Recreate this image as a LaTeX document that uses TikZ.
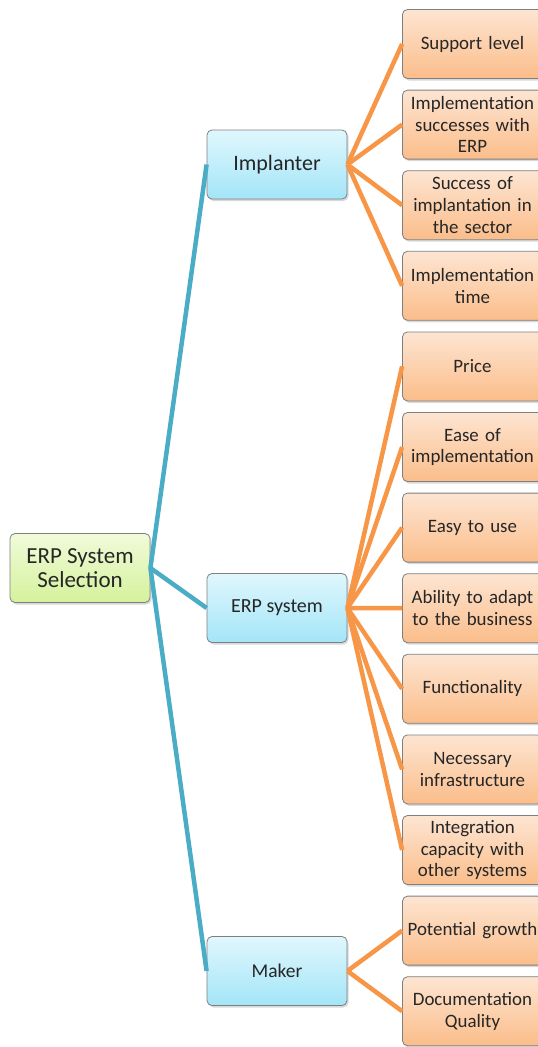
\documentclass[tikz,border=0pt]{standalone}
\usepackage{fontspec}
\setmainfont{Carlito}
\usetikzlibrary{positioning,shadows}
\definecolor{greentop}{HTML}{F1FBDA}
\definecolor{greenbot}{HTML}{D4F29C}
\definecolor{bluetop}{HTML}{E0F7FD}
\definecolor{bluebot}{HTML}{A3E5F8}
\definecolor{orangetop}{HTML}{FDE5D2}
\definecolor{orangebot}{HTML}{FBBD8A}
\definecolor{boxgray}{HTML}{7F7F7F}
\definecolor{linkblue}{HTML}{4BACC6}
\definecolor{linkorange}{HTML}{F79646}

\begin{document}
\begin{tikzpicture}[x=1pt,y=-1pt,
    box/.style={draw=boxgray, line width=0.8pt, rounded corners=5pt,
        minimum width=140pt, minimum height=69pt, align=center, inner sep=1pt,
        text=black!85, drop shadow={opacity=0.3, shadow xshift=1.5pt, shadow yshift=-2pt}},
    rootbox/.style={box, top color=greentop, bottom color=greenbot,
        font=\fontsize{23}{24}\selectfont},
    midbox/.style={box, top color=bluetop, bottom color=bluebot},
    leafbox/.style={box, top color=orangetop, bottom color=orangebot,
        text width=136pt, font=\fontsize{18.9}{21.7}\selectfont},
    blueline/.style={line width=4.5pt, draw=linkblue},
    orangeline/.style={line width=4.5pt, draw=linkorange}]
    \useasboundingbox (0,0) rectangle (538,1047);

    % Nodi principali
    \node[rootbox] (root) at (80,568) {ERP System\\Selection};
    \node[midbox, font=\fontsize{22}{24}\selectfont] (imp) at (277,164.5) {Implanter};
    \node[midbox, font=\fontsize{20}{22}\selectfont] (erp) at (277,608) {ERP system};
    \node[midbox, font=\fontsize{19.5}{22}\selectfont] (mak) at (277,971) {Maker};

    % Criteri
    \foreach \txt [count=\i] in {{Support level}, {Implementation\\successes with\\ERP},
        {Success of\\implantation in\\the sector}, {Implementation\\time}, {Price},
        {Ease of\\implementation}, {Easy to use}, {Ability to adapt\\to the business},
        {Functionality}, {Necessary\\infrastructure}, {Integration\\capacity with\\other systems},
        {Potential growth}, {Documentation\\Quality}}
    \node[leafbox] (l\i) at (472.5,{44+80.6*(\i-1)}) {\txt};

    % Collegamenti
    \draw[blueline] (root.east) -- (imp.west);
    \draw[blueline] (root.east) -- (erp.west);
    \draw[blueline] (root.east) -- (mak.west);

    \foreach \i in {1,...,4}
    \draw[orangeline] (imp.east) -- (l\i.west);
    \foreach \i in {5,...,11}
    \draw[orangeline] (erp.east) -- (l\i.west);
    \foreach \i in {12,13}
    \draw[orangeline] (mak.east) -- (l\i.west);
\end{tikzpicture}
\end{document}
